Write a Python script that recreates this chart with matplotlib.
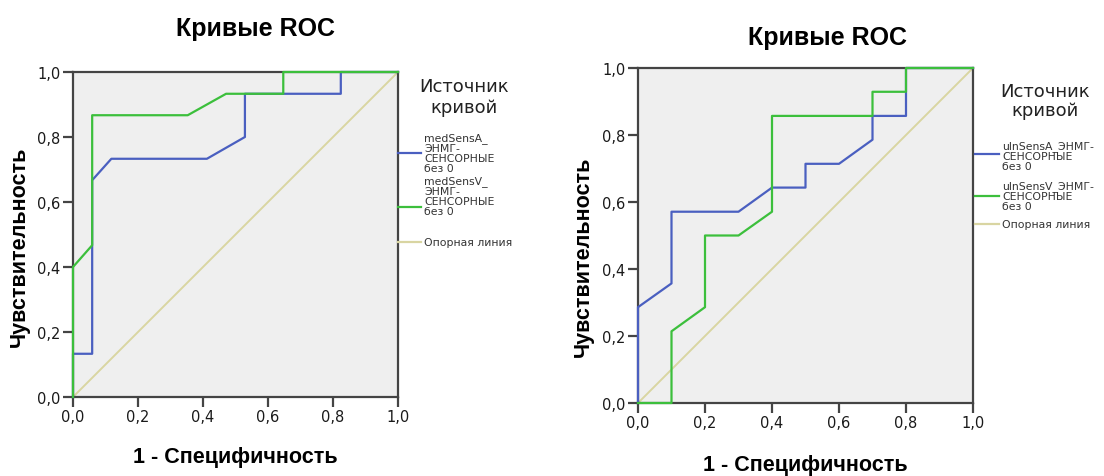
import matplotlib
matplotlib.use("Agg")
import matplotlib.pyplot as plt
from matplotlib.lines import Line2D

# ---- data ----
tick_vals = [0.0, 0.2, 0.4, 0.6, 0.8, 1.0]
tick_labels = ["0,0", "0,2", "0,4", "0,6", "0,8", "1,0"]

# left chart (medSens)
med_a_x = [0, 0, 0.059, 0.059, 0.118, 0.412, 0.529, 0.529, 0.824, 0.824, 1.0]
med_a_y = [0, 0.133, 0.133, 0.667, 0.733, 0.733, 0.800, 0.933, 0.933, 1.0, 1.0]
med_v_x = [0, 0, 0.059, 0.059, 0.353, 0.471, 0.647, 0.647, 1.0]
med_v_y = [0, 0.400, 0.467, 0.867, 0.867, 0.933, 0.933, 1.0, 1.0]

# right chart (ulnSens)
uln_a_x = [0, 0, 0.1, 0.1, 0.3, 0.4, 0.5, 0.5, 0.6, 0.7, 0.7, 0.8, 0.8, 1.0]
uln_a_y = [0, 0.286, 0.357, 0.571, 0.571, 0.643, 0.643, 0.714, 0.714, 0.786, 0.857, 0.857, 1.0, 1.0]
uln_v_x = [0, 0.1, 0.1, 0.2, 0.2, 0.3, 0.4, 0.4, 0.7, 0.7, 0.8, 0.8, 1.0]
uln_v_y = [0, 0, 0.214, 0.286, 0.5, 0.5, 0.571, 0.857, 0.857, 0.929, 0.929, 1.0, 1.0]

ref_x = [0, 1]
ref_y = [0, 1]

title = "Кривые ROC"
xlabel = "1 - Специфичность"
ylabel = "Чувствительность"
legend_title = "Источник\nкривой"
left_names = ["medSensA_\nЭНМГ-\nСЕНСОРНЫЕ\nбез 0", "medSensV_\nЭНМГ-\nСЕНСОРНЫЕ\nбез 0", "Опорная линия"]
right_names = ["ulnSensA_ЭНМГ-\nСЕНСОРНЫЕ\nбез 0", "ulnSensV_ЭНМГ-\nСЕНСОРНЫЕ\nбез 0", "Опорная линия"]

BLUE = "#4a5fc0"
GREEN = "#3cbf3c"
BEIGE = "#d9d5a2"
SPINE = "#444444"
BG = "#efefef"

W, H = 1104, 477
fig = plt.figure(figsize=(W / 100, H / 100), dpi=100)


def fx(px):
    return px / W


def fy(py):
    return 1 - py / H


def make_axes(l, t, r, b):
    ax = fig.add_axes([fx(l), fy(b), fx(r - l), (b - t) / H])
    ax.set_facecolor(BG)
    ax.set_xlim(0, 1)
    ax.set_ylim(0, 1)
    ax.set_xticks(tick_vals)
    ax.set_yticks(tick_vals)
    ax.set_xticklabels(tick_labels)
    ax.set_yticklabels(tick_labels)
    ax.tick_params(direction="out", length=7, width=1.6, color=SPINE, pad=2,
                   labelsize=10.5, labelcolor="#1a1a1a")
    for lab in ax.get_xticklabels() + ax.get_yticklabels():
        lab.set_family("DejaVu Sans")
    for s in ax.spines.values():
        s.set_color(SPINE)
        s.set_linewidth(1.6)
    return ax


def draw(ax, ax_x, ax_y, av_x, av_y):
    ax.plot(ref_x, ref_y, color=BEIGE, lw=1.4, zorder=2)
    ax.plot(ax_x, ax_y, color=BLUE, lw=1.6, zorder=3, clip_on=False)
    ax.plot(av_x, av_y, color=GREEN, lw=1.6, zorder=4, clip_on=False)


def legend(x0, x1, tx, title_x, title_ys, items):
    for line_y, txt_y, col, name in items:
        fig.add_artist(Line2D([fx(x0), fx(x1)], [fy(line_y), fy(line_y)],
                              color=col, lw=1.6))
        fig.text(fx(tx), fy(txt_y), name, ha="left", va="center",
                 fontsize=7.8, family="DejaVu Sans", color="#333333",
                 linespacing=1.0)
    for yy, t in zip(title_ys, legend_title.split("\n")):
        fig.text(fx(title_x), fy(yy), t, ha="center", va="center",
                 fontsize=13, family="DejaVu Sans", color="#222222")


# left chart
ax1 = make_axes(73, 73, 398, 398)
draw(ax1, med_a_x, med_a_y, med_v_x, med_v_y)
fig.text(fx(255), fy(29), title, ha="center", va="center", fontsize=18,
         fontweight="bold", family="Liberation Sans")
fig.text(fx(235), fy(458), xlabel, ha="center", va="center", fontsize=15.5,
         fontweight="bold", family="Liberation Sans")
fig.text(fx(19), fy(247), ylabel, ha="center", va="center", rotation=90,
         fontsize=15.5, fontweight="bold", family="Liberation Sans")
legend(398, 421, 424, 464, [87, 108],
       [(154, 154, BLUE, left_names[0]),
        (208, 197, GREEN, left_names[1]),
        (243, 243, BEIGE, left_names[2])])

# right chart
ax2 = make_axes(638, 69, 973, 404)
draw(ax2, uln_a_x, uln_a_y, uln_v_x, uln_v_y)
fig.text(fx(828), fy(38), title, ha="center", va="center", fontsize=18,
         fontweight="bold", family="Liberation Sans")
fig.text(fx(805), fy(466), xlabel, ha="center", va="center", fontsize=15.5,
         fontweight="bold", family="Liberation Sans")
fig.text(fx(583), fy(257), ylabel, ha="center", va="center", rotation=90,
         fontsize=15.5, fontweight="bold", family="Liberation Sans")
legend(975, 999, 1002, 1045, [92, 111],
       [(155, 157, BLUE, right_names[0]),
        (197, 197, GREEN, right_names[1]),
        (225, 225, BEIGE, right_names[2])])

fig.savefig("out.png", dpi=100)
